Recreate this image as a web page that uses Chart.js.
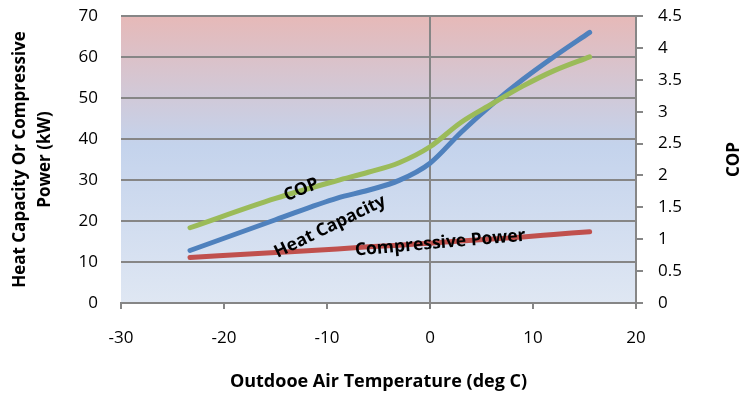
<!DOCTYPE html>
<html>
<head>
<meta charset="utf-8">
<script src="https://cdn.jsdelivr.net/npm/chart.js@4/dist/chart.umd.min.js"></script>
<style>
  html, body { margin: 0; padding: 0; background: #ffffff; }
  canvas { display: block; }
</style>
</head>
<body>
<canvas id="c" width="741" height="395"></canvas>
<script>
// ---- data ----
const temperatures   = [-23.3, -15, -9, -6, -3, 0, 3, 6, 9, 12, 15.5];
const heatCapacity   = [12.8, 20.3, 25.6, 27.5, 29.9, 34.1, 41.6, 48.4, 54.5, 60.0, 66.0];
const compressPower  = [11.1, 12.3, 13.2, 13.7, 14.1, 14.6, 15.1, 15.6, 16.1, 16.7, 17.4];
const cop            = [1.18, 1.64, 1.92, 2.05, 2.20, 2.45, 2.83, 3.12, 3.40, 3.64, 3.86];
const tempTicks      = [-30, -20, -10, 0, 10, 20];
const powerTicks     = [0, 10, 20, 30, 40, 50, 60, 70];
const copTicks       = [0, 0.5, 1, 1.5, 2, 2.5, 3, 3.5, 4, 4.5];
const seriesNames    = ['COP', 'Heat Capacity', 'Compressive Power'];
const xTitle         = 'Outdooe Air Temperature (deg C)';
const yTitle         = ['Heat Capacity Or Compressive', 'Power (kW)'];
const y1Title        = 'COP';

const pts = (ys) => temperatures.map((x, i) => ({ x: x, y: ys[i] }));

const GRID = '#868686';
const FONT = '"Open Sans", "Liberation Sans", sans-serif';

const bgPlugin = {
  id: 'bg',
  beforeDraw(chart) {
    const { ctx, chartArea: a } = chart;
    ctx.save();
    ctx.fillStyle = '#ffffff';
    ctx.fillRect(0, 0, chart.width, chart.height);
    const g = ctx.createLinearGradient(0, a.top, 0, a.bottom);
    g.addColorStop(0, '#e6b9b8');
    g.addColorStop(0.45, '#c4d3ec');
    g.addColorStop(1, '#dfe7f3');
    ctx.fillStyle = g;
    ctx.fillRect(a.left, a.top, a.right - a.left, a.bottom - a.top);
    ctx.restore();
  }
};

const labelPlugin = {
  id: 'seriesLabels',
  afterDatasetsDraw(chart, args, opts) {
    const { ctx, scales } = chart;
    ctx.save();
    ctx.font = opts.font;
    ctx.fillStyle = '#000000';
    ctx.textAlign = 'center';
    ctx.textBaseline = 'middle';
    opts.items.forEach(it => {
      const px = scales.x.getPixelForValue(it.x);
      const py = scales.y.getPixelForValue(it.y);
      ctx.save();
      ctx.translate(px, py);
      ctx.rotate(it.angle * Math.PI / 180);
      ctx.fillText(it.text, 0, 0);
      ctx.restore();
    });
    ctx.restore();
  }
};

const rightTitlePlugin = {
  id: 'rightTitle',
  afterDraw(chart, args, opts) {
    const { ctx, chartArea: a } = chart;
    ctx.save();
    ctx.font = opts.font;
    ctx.fillStyle = '#000000';
    ctx.textAlign = 'center';
    ctx.textBaseline = 'middle';
    ctx.translate(opts.x, (a.top + a.bottom) / 2);
    ctx.rotate(-Math.PI / 2);
    ctx.fillText(opts.text, 0, 0);
    ctx.restore();
  }
};

const fixVertical = (w) => (s) => { s.width = w; s.paddingTop = 8; s.paddingBottom = 0; };

new Chart(document.getElementById('c'), {
  type: 'line',
  data: {
    datasets: [
      { label: seriesNames[0], data: pts(cop), yAxisID: 'y1', borderColor: '#9bbb59' },
      { label: seriesNames[1], data: pts(heatCapacity), yAxisID: 'y', borderColor: '#4f81bd' },
      { label: seriesNames[2], data: pts(compressPower), yAxisID: 'y', borderColor: '#c0504d' }
    ]
  },
  options: {
    responsive: false,
    animation: false,
    devicePixelRatio: 1,
    datasets: {
      line: {
        borderWidth: 5,
        pointRadius: 0,
        cubicInterpolationMode: 'monotone',
        borderCapStyle: 'round',
        borderJoinStyle: 'round',
        fill: false
      }
    },
    layout: { padding: { top: 16, left: 0, right: 0, bottom: 0 } },
    plugins: {
      legend: { display: false },
      tooltip: { enabled: false },
      seriesLabels: {
        font: 'bold 17.5px ' + FONT,
        items: [
          { text: seriesNames[0], x: -12.5, y: 27.6, angle: -22 },
          { text: seriesNames[1], x: -9.7, y: 18.6, angle: -26 },
          { text: seriesNames[2], x: 1.0, y: 14.6, angle: -5 }
        ]
      },
      rightTitle: { text: y1Title, font: 'bold 17px ' + FONT, x: 734 }
    },
    scales: {
      x: {
        type: 'linear',
        position: 'bottom',
        min: -30, max: 20,
        afterBuildTicks: (s) => { s.ticks = tempTicks.map(v => ({ value: v })); },
        afterFit: (s) => { s.height = 92; },
        ticks: {
          color: '#000000',
          font: { family: FONT, size: 17 },
          padding: 19,
          callback: (v) => String(v),
          maxRotation: 0
        },
        grid: {
          color: (c) => (c.tick && c.tick.value === 0) ? GRID : 'rgba(0,0,0,0)',
          tickColor: GRID,
          lineWidth: 2,
          tickLength: 6,
          drawTicks: true
        },
        border: { display: true, color: GRID, width: 2 },
        title: {
          display: true,
          text: xTitle,
          color: '#000000',
          font: { family: FONT, size: 18, weight: 'bold', lineHeight: 1.2 },
          padding: { top: 0, bottom: 2 }
        }
      },
      y: {
        type: 'linear',
        position: 'left',
        min: 0, max: 70,
        afterBuildTicks: (s) => { s.ticks = powerTicks.map(v => ({ value: v })); },
        afterFit: fixVertical(121),
        ticks: {
          color: '#000000',
          font: { family: FONT, size: 17 },
          padding: 23,
          callback: (v) => String(v)
        },
        grid: { color: GRID, lineWidth: 2, drawTicks: false },
        border: { display: false },
        title: {
          display: true,
          text: yTitle,
          color: '#000000',
          font: { family: FONT, size: 17, weight: 'bold', lineHeight: 1.45 },
          padding: { top: 8, bottom: 0 }
        }
      },
      y1: {
        type: 'linear',
        position: 'right',
        min: 0, max: 4.5,
        afterBuildTicks: (s) => { s.ticks = copTicks.map(v => ({ value: v })); },
        afterFit: fixVertical(105),
        ticks: {
          color: '#000000',
          font: { family: FONT, size: 17 },
          padding: 15,
          callback: (v) => String(v)
        },
        grid: { drawOnChartArea: false, color: GRID, tickColor: GRID, lineWidth: 2, tickLength: 7, drawTicks: true },
        border: { display: true, color: GRID, width: 2 }
      }
    }
  },
  plugins: [bgPlugin, labelPlugin, rightTitlePlugin]
});
</script>
</body>
</html>
